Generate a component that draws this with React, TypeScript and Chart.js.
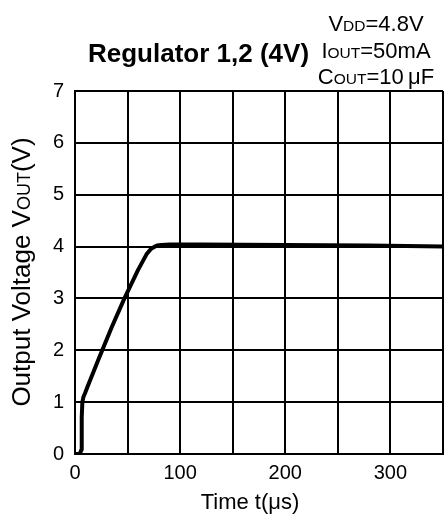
import React, { useEffect, useRef } from "react";
import { Chart, registerables } from "chart.js";

Chart.register(...registerables);

// Start-up waveform of the regulator output
const TIME_US = [0, 3, 5, 6, 6.3, 6.5, 7, 8, 9.5, 12, 22, 35, 47, 60, 68, 72, 75, 78, 82, 90, 120, 200, 280, 350];
const VOUT_V = [0, 0, 0.02, 0.08, 0.3, 0.7, 1.0, 1.1, 1.17, 1.3, 1.81, 2.45, 3.0, 3.55, 3.85, 3.95, 3.99, 4.02, 4.03, 4.04, 4.04, 4.03, 4.02, 4.0];

const X_MIN = 0;
const X_MAX = 350;
const X_STEP = 50;
const X_LABEL_EVERY = 100;
const Y_MIN = 0;
const Y_MAX = 7;
const Y_STEP = 1;

const TITLE = "Regulator 1,2 (4V)";
const X_TITLE = "Time t(μs)";
// Condition lines: [main, small-caps suffix, rest]
const CONDITIONS: [string, string, string][] = [
  ["V", "DD", "=4.8V"],
  ["I", "OUT", "=50mA"],
  ["C", "OUT", "=10\u2009μF"],
];
const Y_TITLE: [string, string, string] = ["Output Voltage V", "OUT", "(V)"];

const FONT = "'Liberation Sans', Arial, sans-serif";
const W = 445;
const H = 518;

type Run = { text: string; size: number; bold?: boolean };

function runsWidth(ctx: CanvasRenderingContext2D, runs: Run[]) {
  let w = 0;
  for (const r of runs) {
    ctx.font = `${r.bold ? "bold " : ""}${r.size}px ${FONT}`;
    w += ctx.measureText(r.text).width;
  }
  return w;
}

function drawRuns(ctx: CanvasRenderingContext2D, runs: Run[], x: number, y: number) {
  let cx = x;
  ctx.textBaseline = "alphabetic";
  ctx.textAlign = "left";
  for (const r of runs) {
    ctx.font = `${r.bold ? "bold " : ""}${r.size}px ${FONT}`;
    ctx.fillText(r.text, cx, y);
    cx += ctx.measureText(r.text).width;
  }
}

const textPlugin = {
  id: "chartTexts",
  afterDraw(chart: Chart) {
    const ctx = chart.ctx;
    const area = chart.chartArea;
    ctx.save();
    ctx.fillStyle = "#000";

    // Title
    drawRuns(ctx, [{ text: TITLE, size: 26, bold: true }], 88, 62);

    // Test conditions, centred block at the top right
    const condCx = 376;
    CONDITIONS.forEach((c, i) => {
      const runs: Run[] = [
        { text: c[0], size: 22 },
        { text: c[1], size: 15.5 },
        { text: c[2], size: 22 },
      ];
      const w = runsWidth(ctx, runs);
      drawRuns(ctx, runs, condCx - w / 2, 31 + i * 26.5);
    });

    // X axis title
    {
      const runs: Run[] = [{ text: X_TITLE, size: 22 }];
      const w = runsWidth(ctx, runs);
      drawRuns(ctx, runs, (area.left + area.right) / 2 - 9 - w / 2, 509);
    }

    // Y axis title, rotated
    {
      const runs: Run[] = [
        { text: Y_TITLE[0], size: 26 },
        { text: Y_TITLE[1], size: 18 },
        { text: Y_TITLE[2], size: 26 },
      ];
      const w = runsWidth(ctx, runs);
      ctx.save();
      ctx.translate(30, 272);
      ctx.rotate(-Math.PI / 2);
      drawRuns(ctx, runs, -w / 2, 0);
      ctx.restore();
    }
    ctx.restore();
  },
};

export default function App() {
  const canvasRef = useRef<HTMLCanvasElement | null>(null);

  useEffect(() => {
    const canvas = canvasRef.current;
    if (!canvas) return;
    const data = TIME_US.map((t, i) => ({ x: t, y: VOUT_V[i] }));
    const chart = new Chart(canvas, {
      type: "line",
      data: {
        datasets: [
          {
            data,
            borderColor: "#000",
            borderWidth: 4,
            pointRadius: 0,
            tension: 0,
            borderJoinStyle: "round",
            borderCapStyle: "round",
            fill: false,
          },
        ],
      },
      options: {
        responsive: false,
        animation: false,
        devicePixelRatio: 1,
        layout: { padding: { top: 91, right: 2, left: 0, bottom: 0 } },
        plugins: {
          legend: { display: false },
          tooltip: { enabled: false },
          title: { display: false },
        },
        scales: {
          x: {
            type: "linear",
            min: X_MIN,
            max: X_MAX,
            afterFit: (s: any) => {
              s.height = H - 454;
              s.paddingLeft = 0;
              s.paddingRight = 0;
            },
            ticks: {
              stepSize: X_STEP,
              autoSkip: false,
              maxRotation: 0,
              padding: 7,
              color: "#000",
              font: { family: FONT, size: 20 },
              callback: (v: any) => (Number(v) % X_LABEL_EVERY === 0 ? String(v) : ""),
            },
            grid: { color: "#000", lineWidth: 2, drawTicks: false },
            border: { color: "#000", width: 2 },
          },
          y: {
            min: Y_MIN,
            max: Y_MAX,
            afterFit: (s: any) => {
              s.width = 75;
              s.paddingTop = 0;
              s.paddingBottom = 0;
            },
            ticks: {
              stepSize: Y_STEP,
              padding: 11,
              color: "#000",
              font: { family: FONT, size: 20 },
            },
            grid: { color: "#000", lineWidth: 2, drawTicks: false },
            border: { color: "#000", width: 2 },
          },
        },
      },
      plugins: [textPlugin],
    });
    return () => chart.destroy();
  }, []);

  return (
    <div style={{ position: "absolute", left: 0, top: 0, width: W, height: H, background: "#fff" }}>
      <canvas ref={canvasRef} width={W} height={H} style={{ display: "block" }} />
    </div>
  );
}
